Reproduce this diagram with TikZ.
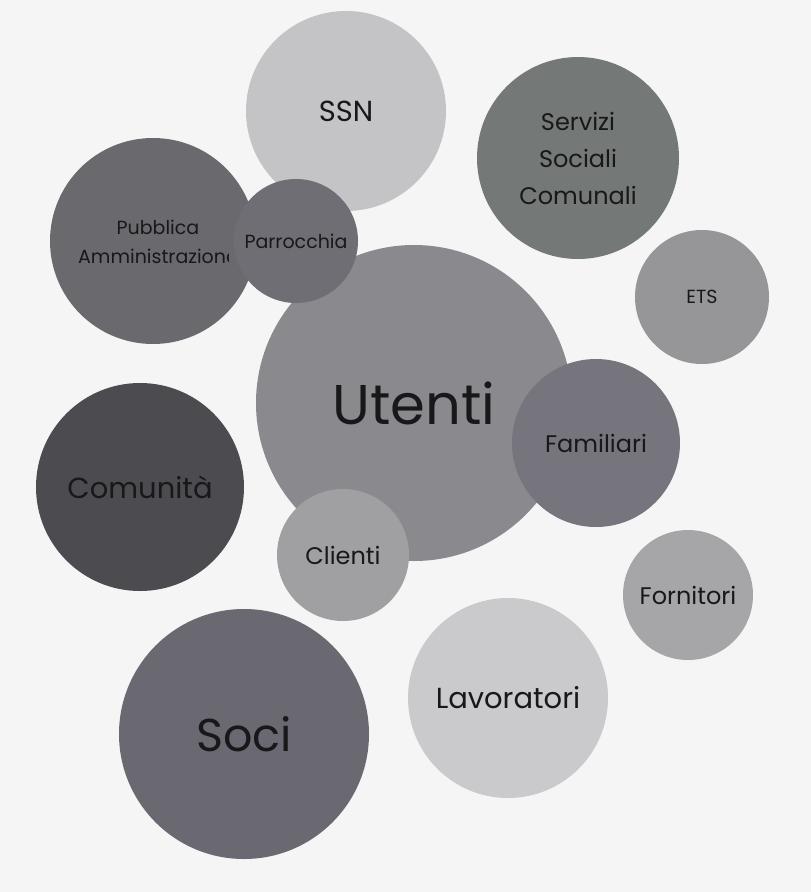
\documentclass[tikz,border=0pt]{standalone}
\usepackage{fontspec}
\setmainfont{Poppins}
\usepackage{xcolor}
\usepackage{tikz}
\definecolor{cPage}{RGB}{245,245,245}
\definecolor{cInk}{RGB}{24,24,26}
\definecolor{cSSN}{RGB}{196,196,198}
\definecolor{cServ}{RGB}{116,120,118}
\definecolor{cPA}{RGB}{106,106,110}
\definecolor{cParr}{RGB}{110,110,116}
\definecolor{cUte}{RGB}{138,138,142}
\definecolor{cETS}{RGB}{150,150,153}
\definecolor{cFam}{RGB}{118,116,124}
\definecolor{cCom}{RGB}{76,76,80}
\definecolor{cCli}{RGB}{160,160,162}
\definecolor{cForn}{RGB}{166,166,168}
\definecolor{cSoci}{RGB}{106,104,112}
\definecolor{cLav}{RGB}{202,202,204}
\tikzset{
  bubble/.style={circle, draw=none, inner sep=0pt, align=center,
                 text=cInk, font=\fontsize{19}{29}\selectfont},
  big/.style={font=\fontsize{56}{60}\selectfont},
  large/.style={font=\fontsize{46}{50}\selectfont},
  mid/.style={font=\fontsize{29}{33}\selectfont},
  small/.style={font=\fontsize{24}{37}\selectfont},
  lbl/.style={align=center, inner sep=0pt, text=cInk, font=\fontsize{19}{29}\selectfont},
}

\begin{document}
\begin{tikzpicture}[x=1pt, y=-1pt]
  % page
  \fill[cPage] (0,0) rectangle (811,892);
  \useasboundingbox (0,0) rectangle (811,892);

  % top row
  \node[bubble, mid, fill=cSSN, minimum size=200pt] (ssn) at (346,111) {SSN};
  \node[bubble, small, fill=cServ, minimum size=202pt] (serv) at (578,158) {Servizi\\Sociali\\Comunali};
  \node[bubble, fill=cPA, minimum size=206pt] (pa) at (153,241) {};
  \begin{scope}
    \clip (40,190) rectangle (228,290);
    \node[lbl] (patext) at (158,242) {Pubblica\\Amministrazione};
  \end{scope}

  % centre
  \node[bubble, big, fill=cUte, minimum size=316pt] (ute) at (414,403) {Utenti};
  \node[bubble, fill=cParr, minimum size=124pt] (parr) at (296,241) {Parrocchia};
  \node[bubble, fill=cETS, minimum size=134pt] (ets) at (702,297) {ETS};
  \node[bubble, small, fill=cFam, minimum size=168pt] (fam) at (596,443) {Familiari};
  \node[bubble, mid, fill=cCom, minimum size=208pt] (com) at (140,487) {Comunità};
  \node[bubble, small, fill=cCli, minimum size=132pt] (cli) at (343,555) {Clienti};
  \node[bubble, small, fill=cForn, minimum size=130pt] (forn) at (688,595) {Fornitori};

  % bottom row
  \node[bubble, mid, fill=cLav, minimum size=200pt] (lav) at (508,698) {Lavoratori};
  \node[bubble, large, fill=cSoci, minimum size=250pt] (soci) at (244,734) {Soci};
\end{tikzpicture}
\end{document}
